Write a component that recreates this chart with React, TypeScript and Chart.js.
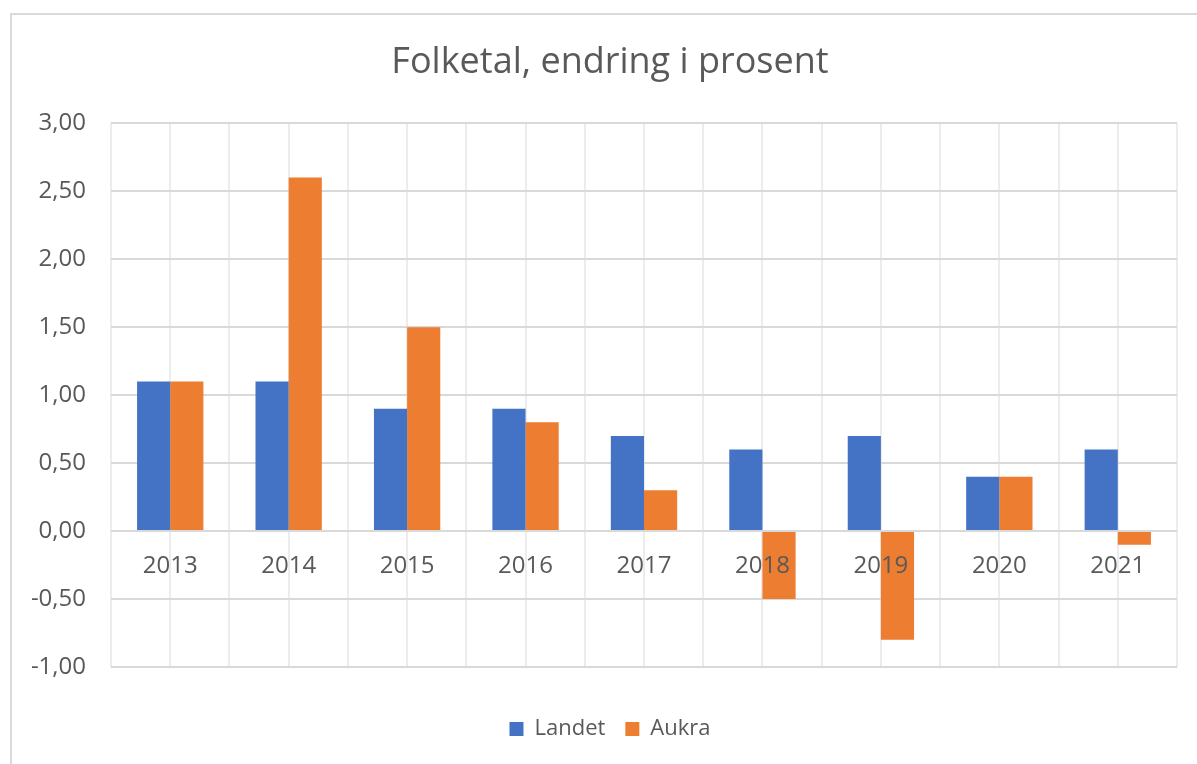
import React, { useEffect, useRef } from "react";
import { Chart, registerables } from "chart.js";

Chart.register(...registerables);

const chartTitle = "Folketal, endring i prosent";
const categories = ["2013", "2014", "2015", "2016", "2017", "2018", "2019", "2020", "2021"];
const seriesNames = ["Landet", "Aukra"];
const landetValues = [1.1, 1.1, 0.9, 0.9, 0.7, 0.6, 0.7, 0.4, 0.6];
const aukraValues = [1.1, 2.6, 1.5, 0.8, 0.3, -0.5, -0.8, 0.4, -0.1];
const yMin = -1;
const yMax = 3;
const yStep = 0.5;

const FONT = "'Open Sans', 'Noto Sans', sans-serif";
const TEXT = "#595959";

const borderPlugin = {
  id: "outerBorder",
  beforeDraw(chart: any) {
    const ctx = chart.ctx;
    ctx.save();
    ctx.fillStyle = "#ffffff";
    ctx.fillRect(0, 0, chart.width, chart.height);
    ctx.strokeStyle = "#d9d9d9";
    ctx.lineWidth = 2;
    ctx.strokeRect(11, 14, chart.width + 50, chart.height + 50);
    ctx.restore();
  },
};

export default function App() {
  const ref = useRef<HTMLCanvasElement | null>(null);

  useEffect(() => {
    if (!ref.current) return;
    const chart = new Chart(ref.current, {
      type: "bar",
      data: {
        labels: categories,
        datasets: [
          {
            label: seriesNames[0],
            data: landetValues,
            backgroundColor: "#4472C4",
            borderWidth: 0,
            categoryPercentage: 0.56,
            barPercentage: 1,
          },
          {
            label: seriesNames[1],
            data: aukraValues,
            backgroundColor: "#ED7D31",
            borderWidth: 0,
            categoryPercentage: 0.56,
            barPercentage: 1,
          },
        ],
      },
      options: {
        responsive: false,
        animation: false,
        devicePixelRatio: 1,
        layout: { padding: { left: 31, right: 8, top: 0, bottom: 14 } },
        plugins: {
          tooltip: { enabled: false },
          title: {
            display: true,
            text: chartTitle,
            color: TEXT,
            font: { family: FONT, size: 36, weight: "normal", lineHeight: 1.2 },
            padding: { top: 41, bottom: 39 },
          },
          legend: {
            display: true,
            position: "bottom",
            labels: {
              color: TEXT,
              font: { family: FONT, size: 22 },
              boxWidth: 14,
              boxHeight: 14,
              padding: 20,
            },
          },
        },
        scales: {
          x: {
            type: "category",
            position: { y: 0 } as any,
            grid: { color: "#ececec", lineWidth: 2, offset: true, drawTicks: false },
            border: { display: false },
            ticks: { color: TEXT, font: { family: FONT, size: 24 }, padding: 21, maxRotation: 0, z: 1 },
          },
          x2: {
            type: "category",
            labels: categories,
            position: "bottom",
            offset: true,
            grid: { color: "#ececec", lineWidth: 2, offset: false, drawTicks: false },
            border: { display: false },
            ticks: { display: false },
            afterFit(scale: any) {
              scale.height = 31;
            },
          },
          y: {
            min: yMin,
            max: yMax,
            ticks: {
              stepSize: yStep,
              color: TEXT,
              font: { family: FONT, size: 24 },
              padding: 25,
              callback: (v: any) => Number(v).toFixed(2).replace(".", ","),
            },
            grid: { color: "#d9d9d9", lineWidth: 2, drawTicks: false },
            border: { display: false },
            afterFit(scale: any) {
              scale.width = 80;
            },
          },
          yRightSpace: {
            type: "linear",
            position: "right",
            grid: { display: false, drawTicks: false },
            border: { display: false },
            ticks: { display: false },
            afterFit(scale: any) {
              scale.width = 12;
            },
          },
        },
      },
      plugins: [borderPlugin],
    });
    return () => chart.destroy();
  }, []);

  return (
    <div style={{ position: "fixed", left: 0, top: 0, width: 1197, height: 764 }}>
      <canvas ref={ref} width={1197} height={764} />
    </div>
  );
}
